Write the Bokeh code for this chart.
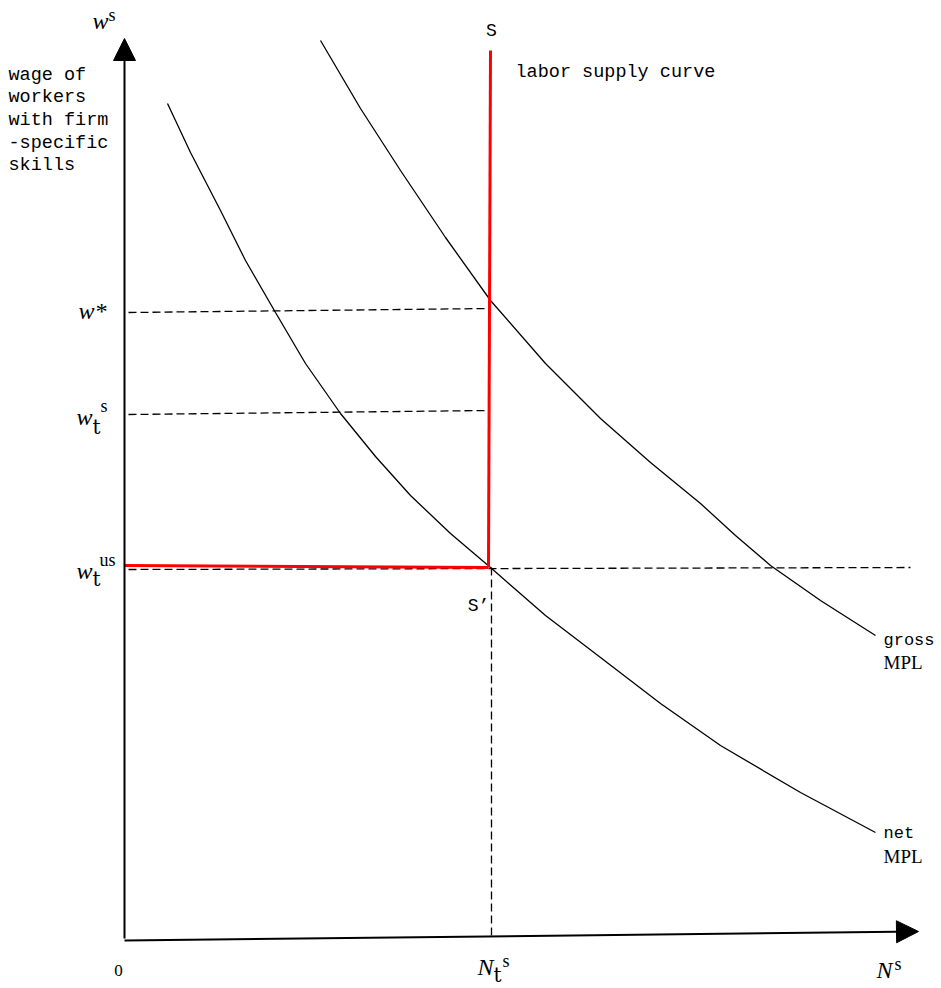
from bokeh.plotting import figure
from bokeh.models import Arrow, NormalHead
from bokeh.core.properties import value
from bokeh.embed import file_html
from bokeh.resources import INLINE

# curves, in picture pixel coordinates
net_x = [167, 190, 220, 245, 275, 305, 340, 375, 410, 450, 490, 545, 600, 660, 720, 800, 875]
net_y = [103, 152, 210, 260, 312, 363, 413, 456, 495, 533, 567, 615, 657, 703, 745, 792, 832]
gross_x = [320, 360, 400, 445, 490, 545, 600, 650, 700, 735, 770, 820, 875]
gross_y = [40, 108, 170, 237, 300, 363, 418, 462, 503, 535, 565, 600, 635]

w_star, w_ts, w_tus = 310, 412, 567
n_ts = 490

p = figure(width=941, height=988, x_range=(0, 941), y_range=(988, 0),
           output_backend="svg", toolbar_location=None, min_border=0)
p.axis.visible = False
p.grid.visible = False
p.outline_line_color = None

p.line(net_x, net_y, line_color="black", line_width=1.3)
p.line(gross_x, gross_y, line_color="black", line_width=1.3)

dash = dict(line_color="black", line_dash="8 4", line_width=1.3)
p.line([128, n_ts], [w_star + 2, w_star - 2], **dash)
p.line([128, n_ts - 2], [w_ts + 2, w_ts - 2], **dash)
p.line([128, 910], [w_tus + 2, w_tus], **dash)
p.line([n_ts + 1, n_ts + 1], [w_tus, 935], **dash)

p.line([124, n_ts - 2], [w_tus - 2, w_tus], line_color="red", line_width=3)
p.line([n_ts - 2, n_ts], [w_tus, 50], line_color="red", line_width=3)

p.add_layout(Arrow(end=NormalHead(size=22, fill_color="black"), x_start=124, y_start=938,
                   x_end=124, y_end=38, line_width=2))
p.add_layout(Arrow(end=NormalHead(size=22, fill_color="black"), x_start=124, y_start=940,
                   x_end=918, y_end=931, line_width=2))

mono = value("Liberation Mono")
serif = value("Liberation Serif")
p.text([8], [64], text=["wage of\nworkers\nwith firm\n-specific\nskills"], text_font=mono,
       text_font_size="18.5px", text_line_height=1.08, text_baseline="top")
p.text([515], [72], text=["labor supply curve"], text_font=mono, text_font_size="18.5px",
       text_baseline="middle")
p.text([491], [30], text=["S"], text_font=mono, text_font_size="18px", text_align="center",
       text_baseline="middle")
p.text([478], [605], text=["S\u2019"], text_font=mono, text_font_size="18px",
       text_align="center", text_baseline="middle")
p.text([883], [640], text=["gross"], text_font=mono, text_font_size="17px", text_baseline="middle")
p.text([883], [662], text=["MPL"], text_font=serif, text_font_size="19px", text_baseline="middle")
p.text([883], [833], text=["net"], text_font=mono, text_font_size="17px", text_baseline="middle")
p.text([883], [856], text=["MPL"], text_font=serif, text_font_size="19px", text_baseline="middle")
p.text([118], [970], text=["0"], text_font=serif, text_font_size="17px", text_align="center",
       text_baseline="middle")

# italic letters and sup/subscripts
it = dict(text_font=serif, text_font_style="italic", text_font_size="24px", text_baseline="middle")
sub = dict(text_font=value("DejaVu Serif"), text_font_size="20px", text_baseline="middle")
sm = dict(text_font=serif, text_font_size="18px", text_baseline="middle")
p.text([92], [20], text=["w"], **it)
p.text([108], [14], text=["s"], **sm)
p.text([78], [310], text=["w*"], **it)
p.text([76], [416], text=["w"], **it)
p.text([92], [426], text=["t"], **sub)
p.text([100], [405], text=["s"], **sm)
p.text([76], [570], text=["w"], **it)
p.text([92], [578], text=["t"], **sub)
p.text([99], [559], text=["us"], **sm)
p.text([477], [966], text=["N"], **it)
p.text([493], [974], text=["t"], **sub)
p.text([502], [960], text=["s"], **sm)
p.text([876], [969], text=["N"], **it)
p.text([894], [963], text=["s"], **sm)

open("out.html", "w").write(file_html(p, INLINE))
